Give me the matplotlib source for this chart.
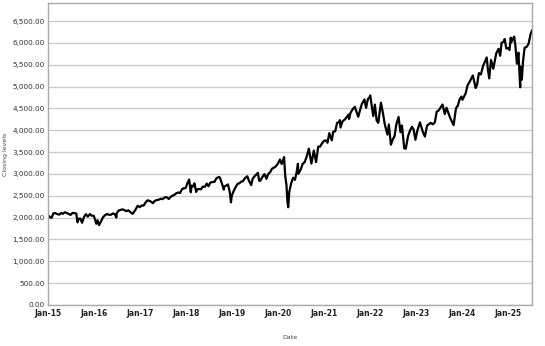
import numpy as np
import pandas as pd
import matplotlib
matplotlib.use("Agg")
import matplotlib.pyplot as plt
import matplotlib.dates as mdates
from matplotlib.ticker import FuncFormatter, MultipleLocator

# approximate closing levels
dates = [
    "2015-01-02", "2015-01-15", "2015-01-30", "2015-02-13", "2015-02-27", "2015-03-16", "2015-03-31",
    "2015-04-15", "2015-04-30", "2015-05-15", "2015-05-29", "2015-06-15", "2015-06-30", "2015-07-15",
    "2015-07-31", "2015-08-14", "2015-08-24", "2015-08-31", "2015-09-15", "2015-09-29", "2015-10-15",
    "2015-10-30", "2015-11-13", "2015-11-30", "2015-12-15", "2015-12-31",
    "2016-01-20", "2016-01-29", "2016-02-11", "2016-02-29", "2016-03-15", "2016-03-31", "2016-04-15",
    "2016-04-29", "2016-05-16", "2016-05-31", "2016-06-15", "2016-06-27", "2016-06-30", "2016-07-15",
    "2016-07-29", "2016-08-15", "2016-08-31", "2016-09-15", "2016-09-30", "2016-10-14", "2016-11-04",
    "2016-11-30", "2016-12-13", "2016-12-30",
    "2017-01-13", "2017-01-31", "2017-02-15", "2017-03-01", "2017-03-15", "2017-03-31", "2017-04-13",
    "2017-04-28", "2017-05-15", "2017-05-31", "2017-06-15", "2017-06-30", "2017-07-14", "2017-07-31",
    "2017-08-18", "2017-08-31", "2017-09-15", "2017-09-29", "2017-10-16", "2017-10-31", "2017-11-15",
    "2017-11-30", "2017-12-15", "2017-12-29",
    "2018-01-12", "2018-01-26", "2018-02-08", "2018-02-15", "2018-02-28", "2018-03-09", "2018-03-23",
    "2018-03-29", "2018-04-13", "2018-04-30", "2018-05-15", "2018-05-31", "2018-06-15", "2018-06-29",
    "2018-07-13", "2018-07-31", "2018-08-15", "2018-08-31", "2018-09-20", "2018-09-28", "2018-10-29",
    "2018-10-31", "2018-11-15", "2018-11-30", "2018-12-14", "2018-12-24", "2018-12-31",
    "2019-01-15", "2019-01-31", "2019-02-15", "2019-02-28", "2019-03-15", "2019-03-29", "2019-04-15",
    "2019-05-03", "2019-05-15", "2019-06-03", "2019-06-14", "2019-06-28", "2019-07-26", "2019-08-05",
    "2019-08-15", "2019-08-30", "2019-09-16", "2019-10-02", "2019-10-15", "2019-10-31", "2019-11-15",
    "2019-11-29", "2019-12-13", "2019-12-31",
    "2020-01-17", "2020-01-31", "2020-02-19", "2020-02-28", "2020-03-09", "2020-03-16", "2020-03-23",
    "2020-03-31", "2020-04-15", "2020-04-30", "2020-05-15", "2020-05-29", "2020-06-08", "2020-06-11",
    "2020-06-30", "2020-07-15", "2020-07-31", "2020-08-14", "2020-09-02", "2020-09-23", "2020-10-12",
    "2020-10-30", "2020-11-16", "2020-11-30", "2020-12-15", "2020-12-31",
    "2021-01-15", "2021-01-29", "2021-02-12", "2021-03-04", "2021-03-15", "2021-03-31", "2021-04-15",
    "2021-04-30", "2021-05-07", "2021-05-12", "2021-05-28", "2021-06-15", "2021-06-30", "2021-07-15",
    "2021-07-19", "2021-07-30", "2021-08-16", "2021-09-02", "2021-09-30", "2021-10-15", "2021-10-29",
    "2021-11-18", "2021-12-01", "2021-12-15", "2021-12-31",
    "2022-01-03", "2022-01-27", "2022-02-09", "2022-02-23", "2022-03-08", "2022-03-29", "2022-04-14",
    "2022-04-29", "2022-05-20", "2022-05-31", "2022-06-16", "2022-06-30", "2022-07-15", "2022-07-29",
    "2022-08-16", "2022-08-31", "2022-09-12", "2022-09-30", "2022-10-12", "2022-10-31", "2022-11-15",
    "2022-11-30", "2022-12-13", "2022-12-28",
    "2023-01-13", "2023-02-02", "2023-02-24", "2023-03-13", "2023-03-31", "2023-04-14", "2023-04-28",
    "2023-05-15", "2023-05-31", "2023-06-15", "2023-06-30", "2023-07-31", "2023-08-18", "2023-09-01",
    "2023-09-29", "2023-10-27", "2023-11-15", "2023-11-30", "2023-12-15", "2023-12-29",
    "2024-01-05", "2024-01-31", "2024-02-15", "2024-02-29", "2024-03-28", "2024-04-19", "2024-04-30",
    "2024-05-15", "2024-05-31", "2024-06-17", "2024-07-16", "2024-07-25", "2024-08-05", "2024-08-19",
    "2024-09-06", "2024-09-30", "2024-10-18", "2024-10-31", "2024-11-11", "2024-11-29", "2024-12-06",
    "2024-12-18", "2024-12-31",
    "2025-01-13", "2025-01-23", "2025-01-27", "2025-02-19", "2025-02-28", "2025-03-13", "2025-03-25",
    "2025-04-08", "2025-04-09", "2025-04-21", "2025-04-30", "2025-05-13", "2025-05-30", "2025-06-13",
    "2025-06-30", "2025-07-10",
]
closes = [
    2058, 2012, 1995, 2097, 2105, 2081, 2068,
    2106, 2086, 2123, 2107, 2084, 2063, 2108,
    2104, 2092, 1893, 1972, 1979, 1882, 2023,
    2079, 2023, 2080, 2043, 2044,
    1859, 1940, 1829, 1932, 2015, 2060, 2081,
    2065, 2066, 2097, 2075, 2001, 2099, 2162,
    2174, 2190, 2171, 2147, 2168, 2133, 2085,
    2199, 2271, 2239,
    2275, 2279, 2349, 2396, 2385, 2363, 2329,
    2384, 2402, 2412, 2433, 2423, 2459, 2470,
    2425, 2472, 2500, 2519, 2557, 2575, 2564,
    2648, 2675, 2674,
    2786, 2873, 2581, 2732, 2714, 2786, 2588,
    2641, 2656, 2648, 2711, 2705, 2779, 2718,
    2801, 2816, 2818, 2902, 2931, 2914, 2641,
    2712, 2730, 2760, 2600, 2351, 2507,
    2610, 2704, 2775, 2784, 2822, 2834, 2905,
    2945, 2850, 2744, 2887, 2942, 3025, 2844,
    2847, 2926, 2997, 2887, 2996, 3038, 3120,
    3141, 3168, 3231,
    3330, 3226, 3386, 2954, 2746, 2386, 2237,
    2585, 2783, 2912, 2864, 3044, 3232, 3002,
    3100, 3227, 3271, 3373, 3580, 3237, 3535,
    3270, 3627, 3622, 3695, 3756,
    3768, 3714, 3934, 3768, 3968, 3973, 4170,
    4181, 4232, 4063, 4204, 4246, 4298, 4360,
    4258, 4395, 4479, 4537, 4308, 4471, 4605,
    4704, 4513, 4709, 4766,
    4797, 4326, 4587, 4225, 4171, 4632, 4393,
    4132, 3901, 4132, 3667, 3785, 3863, 4130,
    4305, 3955, 4110, 3586, 3577, 3872, 3992,
    4080, 4020, 3783,
    3999, 4180, 3970, 3855, 4109, 4137, 4169,
    4136, 4180, 4426, 4450, 4589, 4370, 4515,
    4288, 4117, 4502, 4568, 4719, 4770,
    4697, 4846, 5030, 5096, 5254, 4967, 5036,
    5308, 5278, 5473, 5667, 5399, 5186, 5608,
    5408, 5762, 5864, 5705, 6001, 6032, 6090,
    5872, 5882,
    5836, 6119, 6012, 6144, 5955, 5522, 5777,
    4983, 5457, 5158, 5569, 5886, 5912, 5977,
    6205, 6280,
]

x = pd.to_datetime(dates)
y = np.array(closes)

fig = plt.figure(figsize=(5.45, 3.46), dpi=100)
ax = fig.add_axes([0.088, 0.1185, 0.888, 0.8725])

ax.plot(x, y, color="black", lw=1.6)

ax.set_xlim(pd.Timestamp("2015-01-01"), x[-1])
ax.set_ylim(0, 6910)
ax.yaxis.set_major_locator(MultipleLocator(500))
ax.yaxis.set_major_formatter(FuncFormatter(lambda v, p: f"{v:,.2f}"))
ax.xaxis.set_major_locator(mdates.YearLocator())
ax.xaxis.set_major_formatter(mdates.DateFormatter("%b-%y"))

ax.grid(axis="y", color="#cccccc", lw=1)
ax.set_axisbelow(True)
for s in ax.spines.values():
    s.set_color("#aaaaaa")
    s.set_linewidth(1)

ax.tick_params(axis="y", length=0, labelsize=5.2, labelcolor="#333333", pad=2.5)
ax.tick_params(axis="x", length=0, labelsize=5.5, labelcolor="#222222", pad=3)
for lab in ax.get_xticklabels():
    lab.set_fontweight("bold")

fig.text(0.532, 0.02, "Date", fontsize=4.5, color="#444444", ha="center")
fig.text(0.011, 0.555, "Closing levels", fontsize=4.5, color="#444444",
         rotation=90, va="center", ha="center")

fig.savefig("out.png", dpi=100)
